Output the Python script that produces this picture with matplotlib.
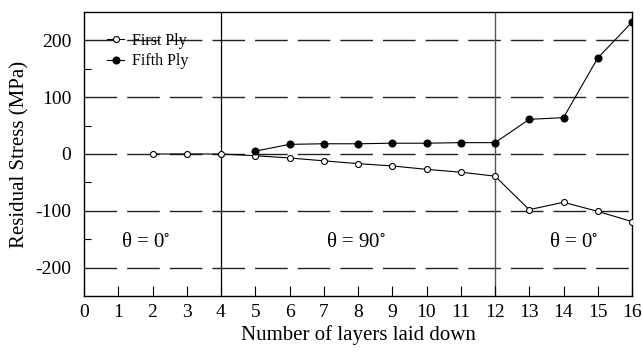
import numpy as np
import matplotlib.pyplot as plt

plt.rcParams['font.family'] = ['Liberation Serif', 'DejaVu Serif']
plt.rcParams['mathtext.fontset'] = 'stix'
plt.rcParams['axes.unicode_minus'] = False

first_x = [2, 3, 4, 5, 6, 7, 8, 9, 10, 11, 12, 13, 14, 15, 16]
first_y = [0, 0, 0, -3, -7, -12, -17, -21, -27, -32, -39, -98, -85, -101, -119]
fifth_x = [5, 6, 7, 8, 9, 10, 11, 12, 13, 14, 15, 16]
fifth_y = [5, 17, 18, 18, 19, 19, 20, 20, 61, 64, 169, 232]

region_bounds = [4, 12]
region_labels = ['θ = 0$^{\\circ}$', 'θ = 90$^{\\circ}$', 'θ = 0$^{\\circ}$']
region_label_x = [1.8, 7.95, 14.3]

fig = plt.figure(figsize=(6.42, 3.54), dpi=100)
ax = fig.add_axes([84/642, 1 - 296/354, 548/642, 284/354])

# dashed reference lines (dash lengths scale with lw)
for yv in [-200, -100, 0, 100, 200]:
    ax.axhline(yv, color='#222222', lw=1.0, dashes=(23.5, 7.2), zorder=1)
ax.axvline(region_bounds[0], color='black', lw=0.9, zorder=1)
ax.axvline(region_bounds[1], color='#555555', lw=1.0, zorder=1)

ax.plot(first_x, first_y, color='black', lw=0.8, marker='o', ms=4.3,
        mfc='white', mec='black', mew=0.8, label='First Ply', zorder=3)
ax.plot(fifth_x, fifth_y, color='black', lw=0.8, marker='o', ms=4.8,
        mfc='black', mec='black', label='Fifth Ply', zorder=3)

for lx, lab in zip(region_label_x, region_labels):
    ax.text(lx, -155, lab, fontsize=15, ha='center', va='center')

ax.set_xlim(0, 16)
ax.set_ylim(-250, 250)
ax.set_xticks(range(0, 17))
ax.set_yticks([-200, -100, 0, 100, 200])
ax.set_yticks([-150, -50, 50, 150], minor=True)
ax.tick_params(axis='x', direction='in', length=7, width=0.8, labelsize=14, pad=6)
ax.tick_params(axis='y', which='major', length=0, labelsize=14, pad=9)
ax.tick_params(axis='y', which='minor', direction='in', length=5, width=0.8)
for s in ax.spines.values():
    s.set_linewidth(1.0)

ax.set_xlabel('Number of layers laid down', fontsize=15, labelpad=3)
ax.set_ylabel('Residual Stress (MPa)', fontsize=15, labelpad=4)

ax.legend(loc='upper left', frameon=False, fontsize=11.5, handlelength=1.1,
          handletextpad=0.5, labelspacing=0.3, borderaxespad=0.0,
          bbox_to_anchor=(0.03, 0.95))

fig.savefig('out.png', dpi=100)
